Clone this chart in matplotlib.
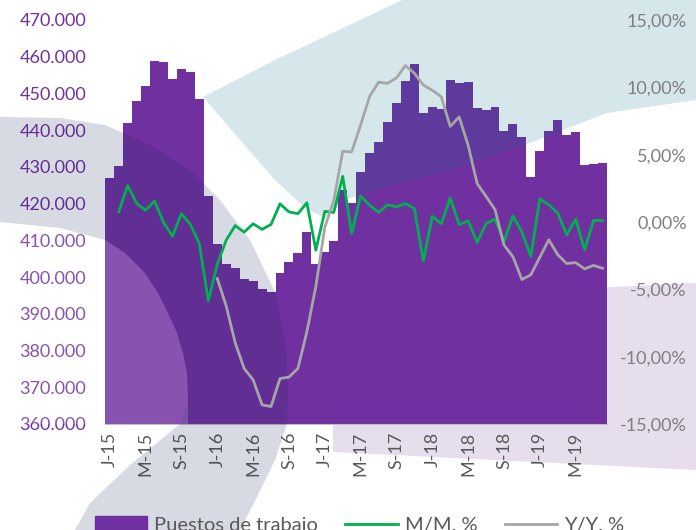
import numpy as np
import matplotlib.pyplot as plt
from matplotlib.patches import Polygon, Patch
from matplotlib.lines import Line2D
from matplotlib.ticker import FuncFormatter
from matplotlib.transforms import ScaledTranslation

plt.rcParams['font.family'] = ['Lato', 'DejaVu Sans']

# monthly jobs, Jan 2015 - Aug 2019
jobs = [427100, 430300, 441900, 448000, 451900, 458900, 458700, 453900, 456700, 455900,
        448500, 422200, 409000, 403500, 402400, 399400, 398900, 396700, 396000, 401000,
        404000, 406500, 412300, 403700, 406900, 409800, 423700, 420100, 428500, 433700,
        436900, 442300, 447300, 453400, 457900, 444600, 446400, 445900, 453700, 452800,
        453000, 446100, 445500, 446400, 439800, 441600, 438200, 427200, 434300, 439800,
        442800, 438700, 439600, 430500, 430800, 431100]

# month-on-month % (from Feb 2015)
mm = [0.75, 2.70, 1.38, 0.87, 1.55, -0.04, -1.05, 0.62, -0.18,
      -1.62, -5.86, -3.13, -1.34, -0.27, -0.75, -0.13, -0.55, -0.18, 1.35,
      0.75, 0.62, 1.43, -2.09, 0.79, 0.71, 3.39, -0.85, 1.95, 1.25,
      0.72, 1.27, 1.13, 1.37, 1.00, -2.90, 0.43, -0.13, 1.78, -0.19,
      0.08, -1.52, -0.12, 0.22, -1.47, 0.45, -0.74, -2.54, 1.72, 1.27,
      0.67, -0.95, 0.21, -2.07, 0.12, 0.10]

# year-on-year % (from Jan 2016)
yy = [-4.20, -6.25, -8.97, -10.88, -11.72, -13.58, -13.70, -11.62,
      -11.52, -10.87, -8.15, -4.80, -0.40, 1.58, 5.25, 5.20, 7.20, 9.32,
      10.38, 10.30, 10.70, 11.62, 11.05, 10.17, 9.78, 9.30, 7.10, 7.80,
      5.70, 2.87, 1.90, 0.92, -1.70, -2.58, -4.27, -3.92, -2.62, -1.32,
      -2.43, -3.08, -3.02, -3.48, -3.22, -3.44]

tick_labels = ["J-15", "M-15", "S-15", "J-16", "M-16", "S-16", "J-17",
               "M-17", "S-17", "J-18", "M-18", "S-18", "J-19", "M-19"]

W, H = 696, 530
fig = plt.figure(figsize=(W / 100, H / 100), dpi=100)

# background decoration (behind the chart)
bg = fig.add_axes([0, 0, 1, 1], zorder=-1)
bg.set_xlim(0, W)
bg.set_ylim(H, 0)
bg.axis('off')
bg.add_patch(Polygon([(333, 300), (696, 283), (696, 470), (333, 452)],
                     closed=True, color='#E6DEEC', lw=0))

# main chart
ax = fig.add_axes([105.3 / W, 1 - 424 / H, (607 - 105.3) / W, (424 - 20) / H], zorder=0)
ax.patch.set_visible(False)
x = np.arange(len(jobs))
ax.bar(x, jobs, width=1.0, color='#7030A0', lw=0)
ax.set_xlim(-0.5, len(jobs) - 0.5)
ax.set_ylim(360000, 470000)
ax.set_yticks(np.arange(360000, 470001, 10000))
ax.yaxis.set_major_formatter(FuncFormatter(lambda v, _: f"{v:,.0f}".replace(",", ".")))
ax.set_xticks(x[::4])
ax.set_xticklabels(tick_labels, rotation=90)
shift = ScaledTranslation(3 / 100, 0, fig.dpi_scale_trans)
for lbl in ax.get_xticklabels():
    lbl.set_transform(lbl.get_transform() + shift)
ax.tick_params(axis='y', length=0, pad=13.7, labelsize=13, labelcolor='#7030A0')
ax.tick_params(axis='x', length=0, pad=5.5, labelsize=13, labelcolor='#595959')
for s in ['top', 'left', 'right']:
    ax.spines[s].set_visible(False)
ax.spines['bottom'].set_color('#BFBFBF')
ax.spines['bottom'].set_linewidth(0.8)

ax2 = ax.twinx()
ax2.set_zorder(2)
ax2.patch.set_visible(False)
ax2.plot(x[1:], mm, color='#00B050', lw=2.0)
ax2.plot(x[12:], yy, color='#A6A6A6', lw=2.0)
ax2.set_ylim(-15, 15)
rt = np.arange(-15, 15.1, 5)
ax2.set_yticks(rt)
ax2.set_yticklabels([f"{v:.2f}%".replace(".", ",") for v in rt], ha='right')
ax2.tick_params(axis='y', length=0, pad=57.5, labelsize=13, labelcolor='#7F7F7F')
for s in ax2.spines.values():
    s.set_visible(False)

# translucent decoration in front of the bars
fg = fig.add_axes([0, 0, 1, 1], zorder=1)
fg.set_xlim(0, W)
fg.set_ylim(H, 0)
fg.axis('off')
fg.patch.set_visible(False)
blue = [(203, 97), (275, 60), (360, 20), (402, 0), (696, 0), (696, 100), (607, 113),
        (530, 143), (445, 172), (400, 182), (345, 200), (325, 218), (305, 208),
        (275, 180), (240, 140)]
fg.add_patch(Polygon(blue, closed=True, color=(0, 111 / 255, 136 / 255), alpha=0.16, lw=0))
swoosh = [(0, 117), (60, 118), (105, 125), (150, 145), (190, 170), (220, 200), (250, 240),
          (275, 292), (285, 340), (288, 390), (287, 424), (275, 460), (257, 497), (240, 530),
          (75, 530), (90, 503), (130, 465), (180, 424), (188, 400), (187, 373), (183, 353),
          (177, 333), (168, 313), (158, 293), (145, 273), (125, 253), (105, 240), (60, 228),
          (0, 222)]
fg.add_patch(Polygon(swoosh, closed=True, color=(30 / 255, 41 / 255, 93 / 255), alpha=0.173, lw=0))
circle = [(0, 222), (60, 228), (105, 240), (125, 253), (145, 273), (158, 293), (168, 313),
          (177, 333), (183, 353), (187, 373), (188, 400), (188, 424), (0, 424)]
fg.add_patch(Polygon(circle, closed=True, color='white', alpha=0.17, lw=0))

handles = [Patch(color='#7030A0'),
           Line2D([], [], color='#00B050', lw=2.0),
           Line2D([], [], color='#A6A6A6', lw=2.0)]
leg = fig.legend(handles, ["Puestos de trabajo", "M/M. %", "Y/Y. %"],
                 loc='center left', bbox_to_anchor=(95 / W, 1 - 525 / H), ncol=3,
                 frameon=False, fontsize=14.5, handlelength=2.6, handletextpad=0.35,
                 columnspacing=1.35, borderpad=0, borderaxespad=0, labelcolor='#595959')

fig.savefig("out.png", dpi=100)
